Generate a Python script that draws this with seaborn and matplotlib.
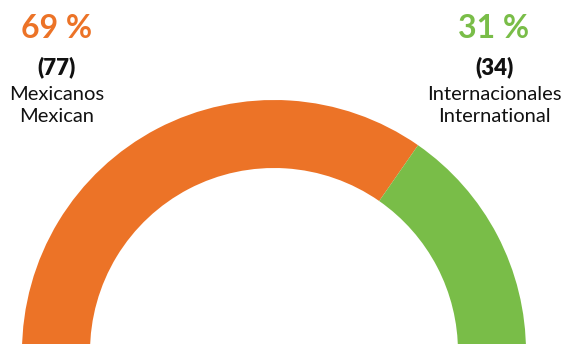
import matplotlib
matplotlib.use("Agg")
import matplotlib.pyplot as plt
import seaborn as sns

# datos
labels_es = ["Mexicanos", "Internacionales"]
labels_en = ["Mexican", "International"]
counts = [77, 34]
pcts = [69, 31]
colors = ["#EC7327", "#79BD48"]

sns.set_theme(style="white")
plt.rcParams["font.family"] = ["Lato", "DejaVu Sans"]

W, H = 563, 344
fig = plt.figure(figsize=(W / 100, H / 100), dpi=100)
ax = fig.add_axes([0, 0, 1, 1])

# medio donut: la mitad inferior es invisible
total = sum(counts)
ax.pie(counts + [total], colors=colors + ["none"], startangle=180,
       counterclock=True, center=(274, 352), radius=252,
       wedgeprops=dict(width=68, linewidth=0), frame=True)
ax.set_xlim(0, W)
ax.set_ylim(H, 0)  # coordenadas en píxeles, y hacia abajo
ax.set_aspect("equal")
ax.axis("off")

# etiquetas
xs = [57, 494]
for x, p, c, es, en, col in zip(xs, pcts, counts, labels_es, labels_en, colors):
    ax.text(x, 29, f"{p} %", color=col, fontsize=23, fontweight="bold",
            ha="center", va="center")
    ax.text(x, 67, f"({c})", color="#111111", fontsize=16, fontweight="heavy",
            ha="center", va="center")
    ax.text(x, 94, es, color="#111111", fontsize=14.5, ha="center", va="center")
    ax.text(x, 117, en, color="#111111", fontsize=14.5, ha="center", va="center")

fig.savefig("out.png", dpi=100)
